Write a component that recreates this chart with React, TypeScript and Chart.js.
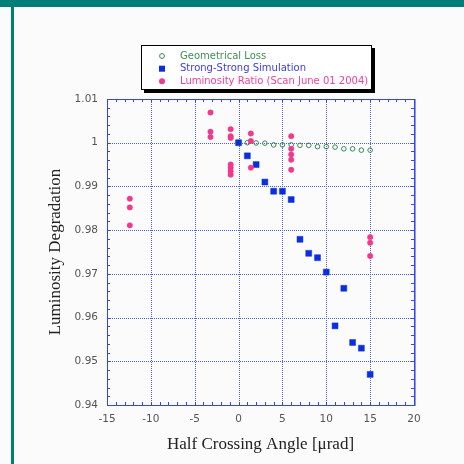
import React, { useEffect, useRef } from 'react';
import { Chart, registerables } from 'chart.js';

Chart.register(...registerables);

// ---- data ----
const geomX = [0, 1, 2, 3, 4, 5, 6, 7, 8, 9, 10, 11, 12, 13, 14, 15];
const geomY = [1.0, 1.0, 0.99995, 0.9999, 0.9995, 0.9995, 0.9995, 0.9994, 0.9994, 0.9991, 0.9991, 0.999, 0.9986, 0.9986, 0.9983, 0.9983];

const simX = [0, 1, 2, 3, 4, 5, 6, 7, 8, 9, 10, 11, 12, 13, 14, 15];
const simY = [1.0, 0.997, 0.995, 0.991, 0.9889, 0.9889, 0.987, 0.9779, 0.9747, 0.9737, 0.9704, 0.9581, 0.9667, 0.9543, 0.953, 0.947];

const lumX = [-12.4, -12.4, -12.4, -3.2, -3.2, -3.2, -0.9, -0.9, -0.9, -0.9, -0.9, -0.9, -0.9, 1.4, 1.4, 1.4, 6, 6, 6, 6, 6, 15, 15, 15];
const lumY = [0.9872, 0.9852, 0.9811, 1.0069, 1.0025, 1.0013, 1.0031, 1.0015, 1.0011, 0.995, 0.9943, 0.9935, 0.9927, 1.0021, 1.0004, 0.9943, 1.0015, 0.9986, 0.9973, 0.9961, 0.9938, 0.9784, 0.9771, 0.9741];

const xTicks = [-15, -10, -5, 0, 5, 10, 15, 20];
const xTickLabels = ['-15', '-10', '-5', '0', '5', '10', '15', '20'];
const yTicks = [0.94, 0.95, 0.96, 0.97, 0.98, 0.99, 1.0, 1.01];
const yTickLabels = ['0.94', '0.95', '0.96', '0.97', '0.98', '0.99', '1', '1.01'];

const seriesNames = ['Geometrical Loss', 'Strong-Strong Simulation', 'Luminosity Ratio (Scan June 01 2004)'];
const xTitle = 'Half Crossing Angle [\u03BCrad]';
const yTitle = 'Luminosity Degradation';

// ---- styles ----
const GREEN = '#3a8a50';
const BLUE = '#0c2fdc';
const PINK = '#f0388c';
const AXIS = '#3347e6';
const GRID = '#4a5ef0';
const TEAL = '#007f7a';

const zip = (xs: number[], ys: number[]) => xs.map((x, i) => ({ x, y: ys[i] }));

const bgPlugin = {
  id: 'bg',
  beforeDraw(chart: any) {
    const { ctx, width, height } = chart;
    ctx.save();
    ctx.fillStyle = '#fbfbfb';
    ctx.fillRect(0, 0, width, height);
    ctx.fillStyle = TEAL;
    ctx.fillRect(0, 0, width, 7);
    ctx.fillRect(11, 0, 3, height);
    ctx.restore();
  },
};

const framePlugin = {
  id: 'frame',
  beforeDatasetsDraw(chart: any) {
    const { ctx, chartArea, scales } = chart;
    const { left, right, top, bottom } = chartArea;
    const x = scales.x;
    const y = scales.y;
    const L = Math.round(left);
    const R = Math.round(right);
    const T = Math.round(top);
    const B = Math.round(bottom);
    ctx.save();
    // dotted grid at major ticks
    ctx.fillStyle = GRID;
    xTicks.forEach((v) => {
      const px = Math.round(x.getPixelForValue(v));
      if (px <= L || px >= R) return;
      for (let py = T + 1; py < B; py += 2) ctx.fillRect(px, py, 1, 1);
    });
    yTicks.forEach((v) => {
      const py = Math.round(y.getPixelForValue(v));
      if (py <= T || py >= B) return;
      for (let px = L + 1; px < R; px += 2) ctx.fillRect(px, py, 1, 1);
    });
    // minor inward ticks
    ctx.strokeStyle = AXIS;
    ctx.lineWidth = 1;
    ctx.beginPath();
    for (let v = -15; v <= 20; v += 1) {
      const px = Math.round(x.getPixelForValue(v)) + 0.5;
      ctx.moveTo(px, B);
      ctx.lineTo(px, B - 3);
      ctx.moveTo(px, T);
      ctx.lineTo(px, T + 3);
    }
    for (let k = 0; k <= 35; k++) {
      const v = 0.94 + k * 0.002;
      const py = Math.round(y.getPixelForValue(v)) + 0.5;
      ctx.moveTo(L, py);
      ctx.lineTo(L + 3, py);
      ctx.moveTo(R, py);
      ctx.lineTo(R - 3, py);
    }
    ctx.stroke();
    ctx.strokeRect(L + 0.5, T + 0.5, R - L, B - T);
    ctx.strokeStyle = '#8c99f0';
    ctx.beginPath();
    ctx.moveTo(R + 1.5, T);
    ctx.lineTo(R + 1.5, B + 1);
    ctx.stroke();
    ctx.restore();
  },
};

const legendPlugin = {
  id: 'customLegend',
  afterDraw(chart: any) {
    const { ctx } = chart;
    ctx.save();
    ctx.fillStyle = '#000';
    ctx.fillRect(144, 48, 231, 45);
    ctx.fillStyle = '#ffffff';
    ctx.fillRect(141, 45, 231, 45);
    ctx.strokeStyle = '#000';
    ctx.lineWidth = 1;
    ctx.strokeRect(141.5, 45.5, 230, 44);

    const mx = 162;
    const rows = [56, 68.7, 81.3];
    ctx.strokeStyle = GREEN;
    ctx.lineWidth = 1;
    ctx.beginPath();
    ctx.arc(mx, rows[0], 2.4, 0, Math.PI * 2);
    ctx.stroke();
    ctx.fillStyle = BLUE;
    ctx.fillRect(mx - 3, rows[1] - 3, 6, 6);
    ctx.fillStyle = PINK;
    ctx.beginPath();
    ctx.arc(mx, rows[2], 3, 0, Math.PI * 2);
    ctx.fill();

    ctx.font = '10px "DejaVu Sans"';
    ctx.textBaseline = 'middle';
    ctx.textAlign = 'left';
    const colors = ['#3f8f58', '#3b3bea', '#f0409a'];
    seriesNames.forEach((name, i) => {
      ctx.fillStyle = colors[i];
      ctx.fillText(name, 180, rows[i]);
    });
    ctx.restore();
  },
};

export default function App() {
  const canvasRef = useRef<HTMLCanvasElement | null>(null);

  useEffect(() => {
    const canvas = canvasRef.current;
    if (!canvas) return;
    const chart = new Chart(canvas, {
      type: 'scatter',
      data: {
        datasets: [
          {
            label: seriesNames[0],
            data: zip(geomX, geomY),
            pointStyle: 'circle',
            pointRadius: 2.3,
            borderWidth: 1,
            borderColor: GREEN,
            backgroundColor: 'rgba(0,0,0,0)',
            order: 2,
          },
          {
            label: seriesNames[1],
            data: zip(simX, simY),
            pointStyle: 'rect',
            pointRadius: 4.2,
            borderWidth: 0.5,
            borderColor: BLUE,
            backgroundColor: BLUE,
            order: 1,
          },
          {
            label: seriesNames[2],
            data: zip(lumX, lumY),
            pointStyle: 'circle',
            pointRadius: 2.7,
            borderWidth: 0.5,
            borderColor: PINK,
            backgroundColor: PINK,
            order: 0,
          },
        ],
      },
      options: {
        responsive: false,
        animation: false,
        devicePixelRatio: 1,
        events: [],
        layout: { padding: { left: 0, top: 99, right: 50, bottom: 0 } },
        plugins: {
          legend: { display: false },
          tooltip: { enabled: false },
        },
        scales: {
          x: {
            type: 'linear',
            min: -15,
            max: 20,
            afterBuildTicks: (axis: any) => {
              axis.ticks = xTicks.map((v) => ({ value: v }));
            },
            afterFit: (s: any) => {
              s.height = 59;
            },
            grid: { color: 'rgba(0,0,0,0)', drawTicks: false },
            border: { display: false },
            ticks: {
              padding: 8,
              color: '#555',
              autoSkip: false,
              maxRotation: 0,
              font: { family: 'DejaVu Sans', size: 10.5 },
              callback: (_v: any, i: number) => xTickLabels[i],
            },
            title: {
              display: true,
              text: xTitle,
              color: '#222',
              font: { family: 'Liberation Serif', size: 17 },
              padding: { top: 0, bottom: 8.8 },
            },
          },
          y: {
            type: 'linear',
            min: 0.94,
            max: 1.01,
            afterBuildTicks: (axis: any) => {
              axis.ticks = yTicks.map((v) => ({ value: v }));
            },
            afterFit: (s: any) => {
              s.width = 107;
            },
            grid: { color: 'rgba(0,0,0,0)', drawTicks: false },
            border: { display: false },
            ticks: {
              padding: 9,
              color: '#555',
              autoSkip: false,
              font: { family: 'DejaVu Sans', size: 10.5 },
              callback: (_v: any, i: number) => yTickLabels[i],
            },
            title: {
              display: true,
              text: yTitle,
              color: '#222',
              font: { family: 'Liberation Serif', size: 17 },
              padding: { top: 45.8, bottom: 0 },
            },
          },
        },
      },
      plugins: [bgPlugin, framePlugin, legendPlugin],
    });
    return () => chart.destroy();
  }, []);

  return (
    <div style={{ position: 'absolute', left: 0, top: 0, width: 464, height: 464 }}>
      <canvas ref={canvasRef} width={464} height={464} style={{ display: 'block', width: 464, height: 464 }} />
    </div>
  );
}
